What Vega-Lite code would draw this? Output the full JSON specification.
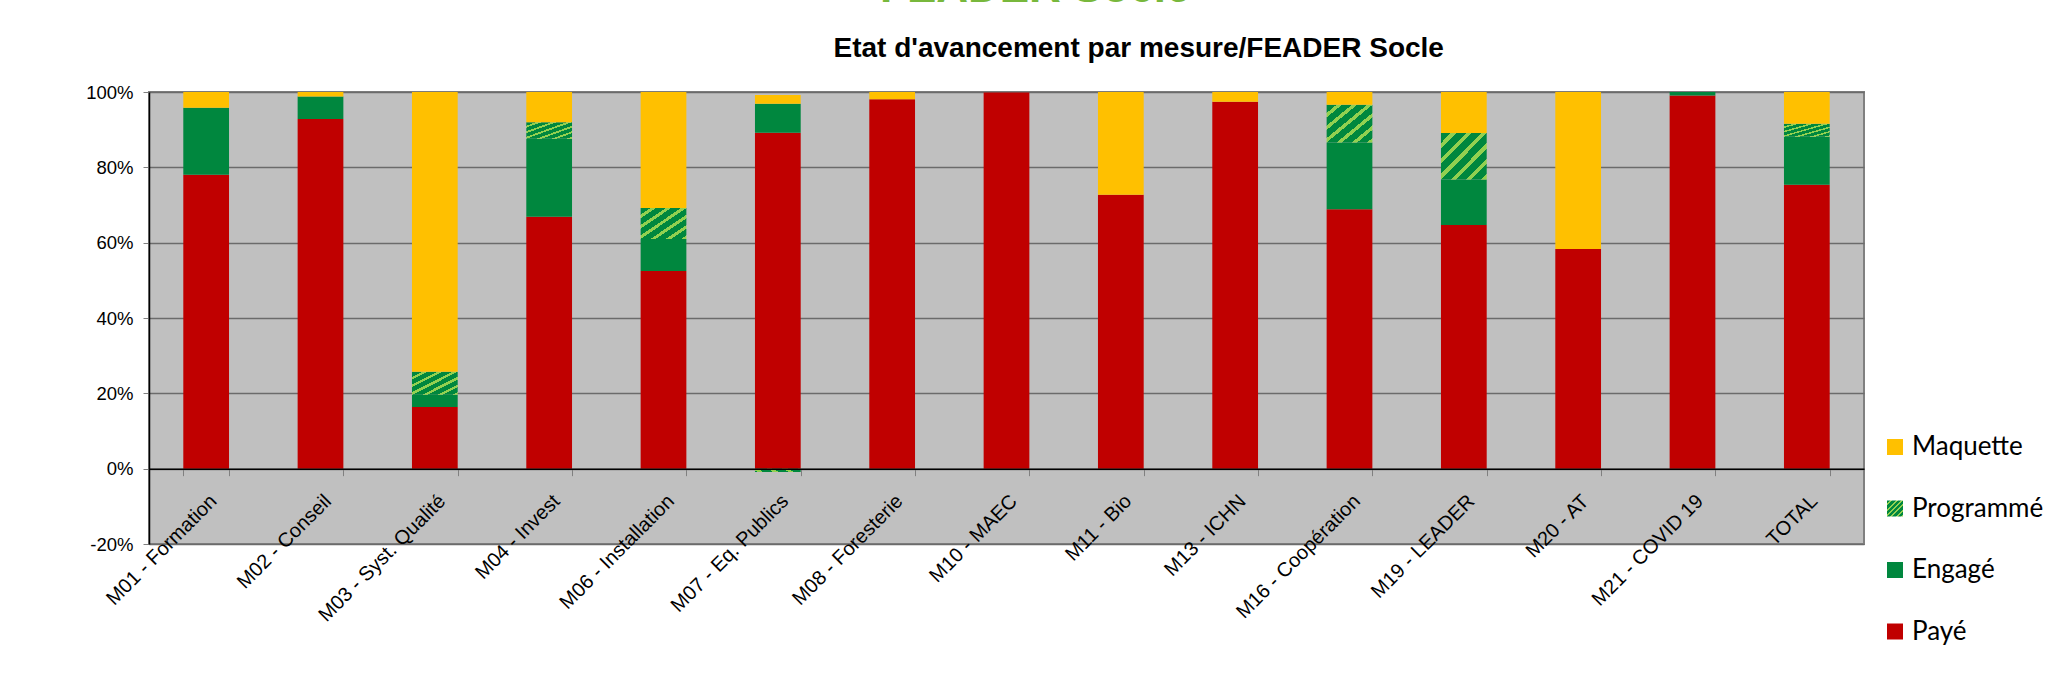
{
  "$schema": "https://vega.github.io/schema/vega-lite/v6.json",
  "autosize": {"type": "none"},
  "width": 1715,
  "height": 452,
  "padding": {"left": 149, "top": 92, "right": 185, "bottom": 141},
  "background": "white",
  "title": {
    "text": "FEADER Socle",
    "anchor": "start",
    "frame": "group",
    "dx": 731,
    "offset": -12,
    "baseline": "alphabetic",
    "font": "Liberation Sans",
    "fontSize": 44,
    "fontWeight": "bold",
    "color": "#78B83C"
  },
  "config": {
    "view": {"fill": "#C0C0C0", "stroke": "#808080", "strokeWidth": 2},
    "axis": {"labelFont": "Liberation Sans", "labelColor": "#000000", "labelFontSize": 18.5}
  },
  "data": {
    "values": [
      {"mesure": "M01 - Formation", "serie": "Payé", "ord": 1, "v": 0.78},
      {"mesure": "M01 - Formation", "serie": "Engagé", "ord": 2, "v": 0.178},
      {"mesure": "M01 - Formation", "serie": "Maquette", "ord": 4, "v": 0.042},
      {"mesure": "M02 - Conseil", "serie": "Payé", "ord": 1, "v": 0.928},
      {"mesure": "M02 - Conseil", "serie": "Engagé", "ord": 2, "v": 0.06},
      {"mesure": "M02 - Conseil", "serie": "Maquette", "ord": 4, "v": 0.012},
      {"mesure": "M03 - Syst. Qualité", "serie": "Payé", "ord": 1, "v": 0.164},
      {"mesure": "M03 - Syst. Qualité", "serie": "Engagé", "ord": 2, "v": 0.032},
      {"mesure": "M03 - Syst. Qualité", "serie": "Programmé", "ord": 3, "v": 0.061},
      {"mesure": "M03 - Syst. Qualité", "serie": "Maquette", "ord": 4, "v": 0.743},
      {"mesure": "M04 - Invest", "serie": "Payé", "ord": 1, "v": 0.669},
      {"mesure": "M04 - Invest", "serie": "Engagé", "ord": 2, "v": 0.207},
      {"mesure": "M04 - Invest", "serie": "Programmé", "ord": 3, "v": 0.044},
      {"mesure": "M04 - Invest", "serie": "Maquette", "ord": 4, "v": 0.08},
      {"mesure": "M06 - Installation", "serie": "Payé", "ord": 1, "v": 0.525},
      {"mesure": "M06 - Installation", "serie": "Engagé", "ord": 2, "v": 0.085},
      {"mesure": "M06 - Installation", "serie": "Programmé", "ord": 3, "v": 0.082},
      {"mesure": "M06 - Installation", "serie": "Maquette", "ord": 4, "v": 0.308},
      {"mesure": "M07 - Eq. Publics", "serie": "Payé", "ord": 1, "v": 0.892},
      {"mesure": "M07 - Eq. Publics", "serie": "Engagé", "ord": 2, "v": 0.077},
      {"mesure": "M07 - Eq. Publics", "serie": "Programmé", "ord": 3, "v": -0.009},
      {"mesure": "M07 - Eq. Publics", "serie": "Maquette", "ord": 4, "v": 0.023},
      {"mesure": "M08 - Foresterie", "serie": "Payé", "ord": 1, "v": 0.981},
      {"mesure": "M08 - Foresterie", "serie": "Maquette", "ord": 4, "v": 0.019},
      {"mesure": "M10 - MAEC", "serie": "Payé", "ord": 1, "v": 0.999},
      {"mesure": "M11 - Bio", "serie": "Payé", "ord": 1, "v": 0.727},
      {"mesure": "M11 - Bio", "serie": "Maquette", "ord": 4, "v": 0.273},
      {"mesure": "M13 - ICHN", "serie": "Payé", "ord": 1, "v": 0.974},
      {"mesure": "M13 - ICHN", "serie": "Maquette", "ord": 4, "v": 0.026},
      {"mesure": "M16 - Coopération", "serie": "Payé", "ord": 1, "v": 0.689},
      {"mesure": "M16 - Coopération", "serie": "Engagé", "ord": 2, "v": 0.177},
      {"mesure": "M16 - Coopération", "serie": "Programmé", "ord": 3, "v": 0.1},
      {"mesure": "M16 - Coopération", "serie": "Maquette", "ord": 4, "v": 0.034},
      {"mesure": "M19 - LEADER", "serie": "Payé", "ord": 1, "v": 0.647},
      {"mesure": "M19 - LEADER", "serie": "Engagé", "ord": 2, "v": 0.121},
      {"mesure": "M19 - LEADER", "serie": "Programmé", "ord": 3, "v": 0.123},
      {"mesure": "M19 - LEADER", "serie": "Maquette", "ord": 4, "v": 0.109},
      {"mesure": "M20 - AT", "serie": "Payé", "ord": 1, "v": 0.583},
      {"mesure": "M20 - AT", "serie": "Maquette", "ord": 4, "v": 0.417},
      {"mesure": "M21 - COVID 19", "serie": "Payé", "ord": 1, "v": 0.991},
      {"mesure": "M21 - COVID 19", "serie": "Engagé", "ord": 2, "v": 0.009},
      {"mesure": "TOTAL", "serie": "Payé", "ord": 1, "v": 0.754},
      {"mesure": "TOTAL", "serie": "Engagé", "ord": 2, "v": 0.127},
      {"mesure": "TOTAL", "serie": "Programmé", "ord": 3, "v": 0.035},
      {"mesure": "TOTAL", "serie": "Maquette", "ord": 4, "v": 0.084}
    ]
  },
  "mark": {"type": "bar"},
  "encoding": {
    "x": {
      "field": "mesure",
      "type": "nominal",
      "sort": null,
      "scale": {"paddingInner": 0.6, "paddingOuter": 0.3},
      "axis": {
        "title": null,
        "offset": -75.33,
        "domainColor": "#000000",
        "domainWidth": 1.5,
        "tickColor": "#808080",
        "tickSize": 7,
        "tickBand": "extent",
        "labelAngle": -45,
        "labelAlign": "right",
        "labelBaseline": "top",
        "labelFontSize": 20,
        "labelPadding": 15,
        "labelDx": -7,
        "labelOverlap": false,
        "labelLimit": 0,
        "zindex": 1
      }
    },
    "y": {
      "field": "v",
      "type": "quantitative",
      "stack": "zero",
      "scale": {"domain": [-0.2, 1], "nice": false, "zero": false},
      "axis": {
        "values": [-0.2, 0, 0.2, 0.4, 0.6, 0.8, 1],
        "labelExpr": "(datum.value < 0 ? '-' : '') + format(abs(datum.value), '.0%')",
        "domainColor": "#000000",
        "domainWidth": 1.5,
        "tickColor": "#808080",
        "tickSize": 6,
        "labelPadding": 10,
        "gridColor": "#6b6b6b",
        "gridWidth": 1.3,
        "title": "Etat d'avancement par mesure/FEADER Socle",
        "titleAngle": 0,
        "titleAlign": "left",
        "titleBaseline": "alphabetic",
        "titleX": 684,
        "titleY": -36,
        "titleFont": "Liberation Sans",
        "titleFontSize": 28,
        "titleFontWeight": "bold",
        "titleColor": "#000000"
      }
    },
    "order": {"field": "ord", "type": "quantitative", "sort": "ascending"},
    "color": {
      "field": "serie",
      "type": "nominal",
      "scale": {
        "domain": ["Maquette", "Programmé", "Engagé", "Payé"],
        "range": [
          "#FFC000",
          {"expr": "{gradient: 'linear', x1: 0, y1: 0, x2: 1, y2: 1, stops: [{offset: 0, color: '#00873E'}, {offset: 0.108, color: '#00873E'}, {offset: 0.108, color: '#92D050'}, {offset: 0.1667, color: '#92D050'}, {offset: 0.1667, color: '#00873E'}, {offset: 0.275, color: '#00873E'}, {offset: 0.275, color: '#92D050'}, {offset: 0.3333, color: '#92D050'}, {offset: 0.3333, color: '#00873E'}, {offset: 0.4417, color: '#00873E'}, {offset: 0.4417, color: '#92D050'}, {offset: 0.5, color: '#92D050'}, {offset: 0.5, color: '#00873E'}, {offset: 0.6083, color: '#00873E'}, {offset: 0.6083, color: '#92D050'}, {offset: 0.6667, color: '#92D050'}, {offset: 0.6667, color: '#00873E'}, {offset: 0.775, color: '#00873E'}, {offset: 0.775, color: '#92D050'}, {offset: 0.8333, color: '#92D050'}, {offset: 0.8333, color: '#00873E'}, {offset: 0.9417, color: '#00873E'}, {offset: 0.9417, color: '#92D050'}, {offset: 1, color: '#92D050'}]}"},
          "#00873E",
          "#C00000"
        ]
      },
      "legend": {
        "title": null,
        "orient": "none",
        "legendX": 1733,
        "legendY": 342,
        "padding": 0,
        "symbolType": "square",
        "symbolSize": 256,
        "symbolStrokeWidth": 0,
        "labelFont": "Lato",
        "labelFontSize": 26,
        "labelColor": "#000000",
        "labelOffset": 4,
        "rowPadding": 35.5
      }
    }
  }
}
